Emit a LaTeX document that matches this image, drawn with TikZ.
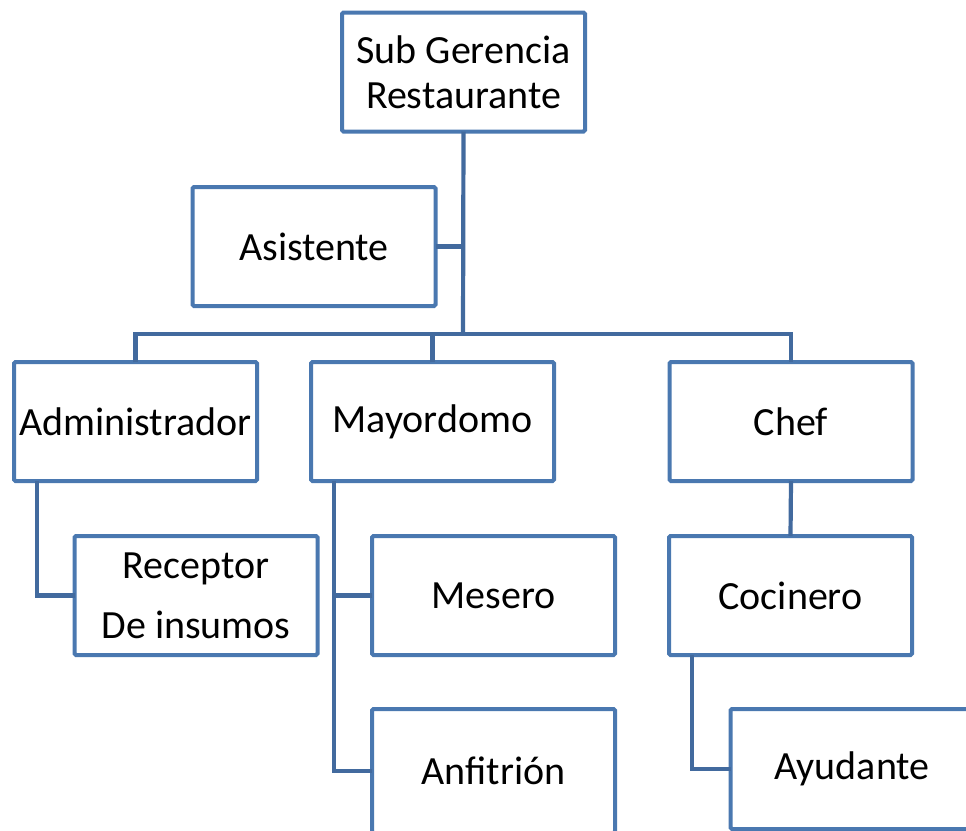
\documentclass[tikz,border=0pt]{standalone}
\usepackage{fontspec}
\setmainfont{Carlito}
\usetikzlibrary{calc}
\definecolor{boxline}{RGB}{74,120,176}
\definecolor{linkline}{RGB}{66,106,158}
\begin{document}
\begin{tikzpicture}[x=1pt,y=-1pt,
  unit/.style={draw=boxline, line width=4pt, fill=white, rounded corners=1.5pt,
    minimum width=243pt, minimum height=119pt, inner sep=0pt, outer sep=0pt,
    align=center, font=\fontsize{40}{45}\selectfont},
  link/.style={draw=linkline, line width=4.2pt}]
\useasboundingbox (0,0) rectangle (966,830);
\clip (0,0) rectangle (966,830);

% junction where the three departments branch off
\coordinate (bus) at (463,334);

% positions
\node[unit] (sub) at (463.5,72) {Sub Gerencia\\Restaurante};
\node[unit] (asis) at (314,246.5) {Asistente};
\node[unit] (admin) at (135.5,421.5) {Administrador};
\node[unit] (mayor) at (432.5,421.5) {Mayordomo};
\node[unit] (chef) at (791,421.5) {Chef};
\node[unit] (recep) at (196,595.5) {Receptor\\[15pt]De insumos};
\node[unit] (mesero) at (493.5,595.5) {Mesero};
\node[unit] (cocin) at (790.5,595.5) {Cocinero};
\node[unit, minimum height=124pt] (anfi) at (493.5,771) {Anfitrión};
\node[unit, minimum height=120pt] (ayud) at (852,769) {Ayudante};

% reporting lines
\draw[link] (sub.south) -- (bus);
\draw[link] (asis.east) -- (asis.east -| bus);
\draw[link] (admin.north) |- (bus) -| (chef.north);
\draw[link] (mayor.north) -- (mayor.north |- bus);
\draw[link] ($(admin.south west)+(23,0)$) |- (recep.west);
\draw[link] ($(mayor.south west)+(23,0)$) |- (anfi.west);
\draw[link] (mesero.west) -- (mesero.west -| {$(mayor.south west)+(23,0)$});
\draw[link] (chef.south) -- (cocin.north);
\draw[link] ($(cocin.south west)+(23,0)$) |- (ayud.west);
\end{tikzpicture}
\end{document}
